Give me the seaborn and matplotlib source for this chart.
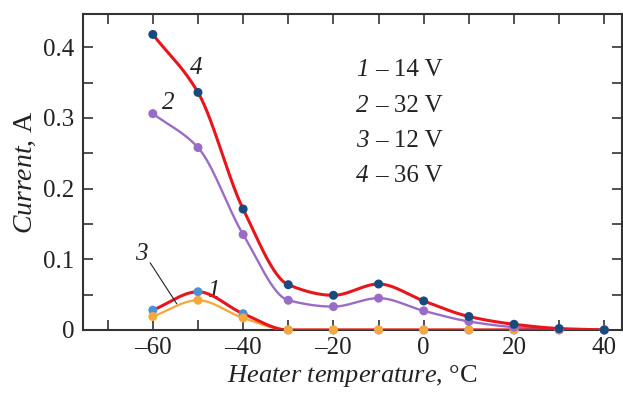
import numpy as np
import pandas as pd
import matplotlib
matplotlib.use("Agg")
import matplotlib.pyplot as plt
import seaborn as sns
from matplotlib.ticker import MultipleLocator, FuncFormatter

# values
temperature = [-60, -50, -40, -30, -20, -10, 0, 10, 20, 30, 40]
current_1 = [0.028, 0.054, 0.023, 0.0, 0.0, 0.0, 0.0, 0.0, 0.0, 0.0, 0.0]      # 14 V
current_2 = [0.306, 0.258, 0.135, 0.042, 0.033, 0.045, 0.027, 0.012, 0.004, 0.001, 0.0]  # 32 V
current_3 = [0.019, 0.042, 0.017, 0.0, 0.0, 0.0, 0.0, 0.0, 0.0, 0.0, 0.0]      # 12 V
current_4 = [0.418, 0.336, 0.171, 0.064, 0.049, 0.065, 0.041, 0.019, 0.008, 0.002, 0.0]  # 36 V
curve_numbers = ["1", "2", "3", "4"]
voltages = ["– 14 V", "– 32 V", "– 12 V", "– 36 V"]


def pchip_curve(x, y, num=300):
    # shape preserving cubic through the measured points, only for drawing the line
    x = np.asarray(x, float)
    y = np.asarray(y, float)
    h = np.diff(x)
    d = np.diff(y) / h
    m = np.zeros_like(y)
    for k in range(1, len(x) - 1):
        if d[k - 1] * d[k] > 0:
            w1 = 2 * h[k] + h[k - 1]
            w2 = h[k] + 2 * h[k - 1]
            m[k] = (w1 + w2) / (w1 / d[k - 1] + w2 / d[k])
    m[0] = d[0]
    m[-1] = d[-1]
    xs = np.linspace(x[0], x[-1], num)
    idx = np.clip(np.searchsorted(x, xs) - 1, 0, len(x) - 2)
    t = (xs - x[idx]) / h[idx]
    h00 = 2 * t**3 - 3 * t**2 + 1
    h10 = t**3 - 2 * t**2 + t
    h01 = -2 * t**3 + 3 * t**2
    h11 = t**3 - t**2
    ys = h00 * y[idx] + h10 * h[idx] * m[idx] + h01 * y[idx + 1] + h11 * h[idx] * m[idx + 1]
    return xs, ys


sns.set_theme(style="ticks")
plt.rcParams["font.family"] = ["Liberation Serif", "DejaVu Serif"]
plt.rcParams["mathtext.fontset"] = "custom"
plt.rcParams["mathtext.rm"] = "Liberation Serif"
plt.rcParams["mathtext.it"] = "Liberation Serif:italic"

fig = plt.figure(figsize=(6.23, 3.98), dpi=100)
ax = fig.add_axes([0.133, 0.171, 0.866, 0.794])

red = "#e8161c"
# (values, line colour, marker colour, line width, line z, marker z)
series = [
    (current_3, "#f5a53a", "#f7a83c", 1.6, 3.0, 4.2),
    (current_2, "#9a6cc6", "#9a6cc6", 1.7, 3.1, 4.3),
    (current_1, red, "#4a92e0", 2.2, 3.2, 4.1),
    (current_4, red, "#174a7e", 2.2, 3.3, 4.4),
]
for values, line_color, marker_color, lw, lz, mz in series:
    xs, ys = pchip_curve(temperature, values)
    sns.lineplot(x=xs, y=ys, ax=ax, color=line_color, linewidth=lw, zorder=lz)
    pts = pd.DataFrame({"t": temperature, "i": values})
    sns.scatterplot(data=pts, x="t", y="i", ax=ax, color=marker_color, s=42,
                    edgecolor="none", zorder=mz, clip_on=False)

ax.set_xlim(-75.5, 44)
ax.set_ylim(0, 0.447)
ax.xaxis.set_major_locator(MultipleLocator(20))
ax.xaxis.set_minor_locator(MultipleLocator(10))
ax.yaxis.set_major_locator(MultipleLocator(0.1))
ax.yaxis.set_minor_locator(MultipleLocator(0.05))
ax.xaxis.set_major_formatter(FuncFormatter(lambda v, p: f"{v:.0f}".replace("-", "–")))
ax.yaxis.set_major_formatter(FuncFormatter(lambda v, p: "0" if abs(v) < 1e-9 else f"{v:.1f}"))

ax.tick_params(which="both", direction="in", top=True, right=True,
               labelsize=18, colors="#333333", labelcolor="#222222", width=1.2, length=7.5)
ax.tick_params(axis="x", which="major", pad=5)
ax.tick_params(axis="y", which="major", pad=6)
for s in ax.spines.values():
    s.set_color("#333333")
    s.set_linewidth(1.5)

ax.set_xlabel("$\\mathit{Heater\\ temperature}$, °C", fontsize=19, color="#222222", labelpad=3)
ax.set_ylabel("$\\mathit{Current}$, A", fontsize=20, color="#222222", labelpad=4)

# curve numbers
lab = dict(fontsize=18, style="italic", color="#222222")
ax.text(-50.5, 0.370, "4", ha="center", va="center", **lab)
ax.text(-56.5, 0.321, "2", ha="center", va="center", **lab)
ax.text(-46.5, 0.055, "1", ha="center", va="center", **lab)
ax.text(-62.5, 0.108, "3", ha="center", va="center", **lab)
ax.plot([-60.6, -54.7], [0.095, 0.037], color="#222222", lw=0.8, zorder=5)

for k, (num, volt) in enumerate(zip(curve_numbers, voltages)):
    yk = 0.367 - k * 0.0497
    ax.text(-15, yk, num, ha="left", va="center", fontsize=18,
            style="italic", color="#222222")
    ax.text(-10.8, yk, volt, ha="left", va="center", fontsize=18, color="#222222")

fig.savefig("out.png", dpi=100)
